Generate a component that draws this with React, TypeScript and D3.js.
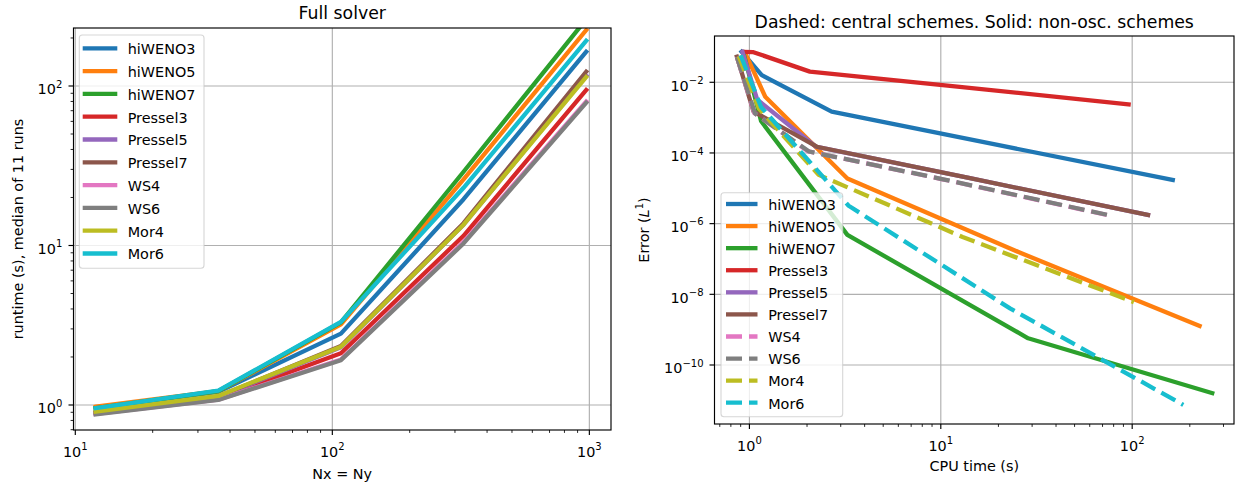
import React from "react";
import * as d3 from "d3";

const FONT = "'DejaVu Sans', Verdana, sans-serif";

// ---------- shared ----------
const schemeNames = ["hiWENO3", "hiWENO5", "hiWENO7", "Pressel3", "Pressel5", "Pressel7", "WS4", "WS6", "Mor4", "Mor6"];
const schemeColors = ["#1f77b4", "#ff7f0e", "#2ca02c", "#d62728", "#9467bd", "#8c564b", "#e377c2", "#7f7f7f", "#bcbd22", "#17becf"];
const centralScheme = [false, false, false, false, false, false, true, true, true, true];

// ---------- left panel: runtime vs grid size ----------
const gridSizes = [12, 36, 108, 324, 972];
const runHiWENO3 = [0.96, 1.21, 2.8, 19.5, 164];
const runHiWENO5 = [0.975, 1.22, 3.2, 26, 224];
const runHiWENO7 = [0.955, 1.22, 3.3, 29, 262];
const runPressel3 = [0.885, 1.1, 2.11, 11.5, 94.4];
const runPressel5 = [0.9, 1.12, 2.3, 13.5, 116];
const runPressel7 = [0.895, 1.13, 2.34, 13.8, 123];
const runWS4 = [0.88, 1.08, 1.93, 10.5, 80];
const runWS6 = [0.875, 1.075, 1.91, 10.3, 78.6];
const runMor4 = [0.91, 1.14, 2.32, 13.5, 114];
const runMor6 = [0.955, 1.23, 3.32, 23, 192];
const runtimes = [runHiWENO3, runHiWENO5, runHiWENO7, runPressel3, runPressel5, runPressel7, runWS4, runWS6, runMor4, runMor6];

const leftXTicks = [10, 100, 1000];
const leftXTickExp = ["1", "2", "3"];
const leftYTicks = [1, 10, 100];
const leftYTickExp = ["0", "1", "2"];

// ---------- right panel: error vs CPU time ----------
const cpuHiWENO3 = [0.91, 1.16, 2.69, 19.5, 163];
const errHiWENO3 = [0.073, 0.016, 1.47e-3, 1.72e-4, 1.72e-5];
const cpuHiWENO5 = [0.95, 1.21, 3.25, 26, 225];
const errHiWENO5 = [0.068, 3.9e-3, 1.9e-5, 1.5e-7, 1.28e-9];
const cpuHiWENO7 = [0.93, 1.15, 3.25, 28.6, 262];
const errHiWENO7 = [0.07, 8e-4, 4.8e-7, 5.7e-10, 1.6e-11];
const cpuPressel3 = [0.93, 1.05, 2.07, 11.5, 95.8];
const errPressel3 = [0.072, 0.071, 0.02, 7.8e-3, 2.38e-3];
const cpuPressel5 = [0.92, 1.1, 2.22, 13.8, 121];
const errPressel5 = [0.072, 3.2e-3, 1.52e-4, 2e-5, 1.76e-6];
const cpuPressel7 = [0.86, 1.05, 2.25, 13.8, 121];
const errPressel7 = [0.053, 1.5e-3, 1.5e-4, 2e-5, 1.76e-6];
const cpuWS4 = [0.86, 1.06, 2.02, 10.2, 76];
const errWS4 = [0.052, 1.35e-3, 1.12e-4, 1.8e-5, 1.7e-6];
const cpuWS6 = [0.86, 1.07, 2.05, 10.3, 77];
const errWS6 = [0.052, 1.3e-3, 1.1e-4, 1.8e-5, 1.7e-6];
const cpuMor4 = [0.88, 1.12, 2.3, 13, 102];
const errMor4 = [0.055, 1.8e-3, 2.4e-5, 4.2e-7, 6e-9];
const cpuMor6 = [0.9, 1.15, 3.3, 23, 185];
const errMor6 = [0.058, 2e-3, 3.2e-6, 4e-9, 7.4e-12];
const cpuTimes = [cpuHiWENO3, cpuHiWENO5, cpuHiWENO7, cpuPressel3, cpuPressel5, cpuPressel7, cpuWS4, cpuWS6, cpuMor4, cpuMor6];
const errors = [errHiWENO3, errHiWENO5, errHiWENO7, errPressel3, errPressel5, errPressel7, errWS4, errWS6, errMor4, errMor6];

const rightXTicks = [1, 10, 100];
const rightXTickExp = ["0", "1", "2"];
const rightYTicks = [1e-2, 1e-4, 1e-6, 1e-8, 1e-10];
const rightYTickExp = ["\u22122", "\u22124", "\u22126", "\u22128", "\u221210"];

// ---------- geometry ----------
const LB = { left: 73.5, right: 611, top: 28, bottom: 430 };
const RB = { left: 714.5, right: 1234, top: 36, bottom: 424 };

const xL = d3.scaleLog().domain([9.84, 1214]).range([LB.left, LB.right]);
const yL = d3.scaleLog().domain([0.697, 231]).range([LB.bottom, LB.top]);
const xR = d3.scaleLog().domain([0.657, 340.4]).range([RB.left, RB.right]);
const yR = d3.scaleLog().domain([2.14e-12, 0.204]).range([RB.bottom, RB.top]);

const LW = 4.3;
const DASH = "16 7";
const FS = 14.4;

function minorTicks(scale: any) {
  const [a, b] = scale.domain();
  const out: number[] = [];
  for (let e = Math.floor(Math.log10(a)); e <= Math.ceil(Math.log10(b)); e++) {
    for (let m = 2; m <= 9; m++) {
      const v = m * Math.pow(10, e);
      if (v >= a && v <= b) out.push(v);
    }
  }
  return out;
}

function Pow({ x, y, exp, anchor }: { x: number; y: number; exp: string; anchor: string }) {
  return (
    <text x={x} y={y} textAnchor={anchor} fontSize={FS} fontFamily={FONT} fill="#000">
      <tspan>10</tspan>
      <tspan dy={-6.7} fontSize={10}>{exp}</tspan>
    </text>
  );
}

function Legend({ x, y, w, h, row0, rowDy, hx1, hx2, tx, dashedFlags }: any) {
  return (
    <g>
      <rect x={x} y={y} width={w} height={h} rx={3} ry={3} fill="#fff" fillOpacity={0.8} stroke="#cccccc" strokeOpacity={0.8} strokeWidth={1.1} />
      {schemeNames.map((name, i) => {
        const ry = row0 + i * rowDy;
        return (
          <g key={name}>
            <line x1={hx1} x2={hx2} y1={ry} y2={ry} stroke={schemeColors[i]} strokeWidth={LW} strokeDasharray={dashedFlags[i] ? DASH : undefined} />
            <text x={tx} y={ry + 5.8} fontSize={FS} fontFamily={FONT} fill="#000">{name}</text>
          </g>
        );
      })}
    </g>
  );
}

function Frame({ B, xs, ys, xMajor, xExp, yMajor, yExp, xMinorOn, yMinorOn, xLabY, yLabX }: any) {
  const xMin = xMinorOn ? minorTicks(xs) : [];
  const yMin = yMinorOn ? minorTicks(ys) : [];
  return (
    <g>
      {xMajor.map((v: number) => (
        <line key={"xm" + v} x1={xs(v)} x2={xs(v)} y1={B.bottom} y2={B.bottom + 5} stroke="#000" strokeWidth={1.15} />
      ))}
      {xMin.map((v: number) => (
        <line key={"xn" + v} x1={xs(v)} x2={xs(v)} y1={B.bottom} y2={B.bottom + 2.9} stroke="#000" strokeWidth={0.85} />
      ))}
      {yMajor.map((v: number) => (
        <line key={"ym" + v} x1={B.left - 5} x2={B.left} y1={ys(v)} y2={ys(v)} stroke="#000" strokeWidth={1.15} />
      ))}
      {yMin.map((v: number) => (
        <line key={"yn" + v} x1={B.left - 2.9} x2={B.left} y1={ys(v)} y2={ys(v)} stroke="#000" strokeWidth={0.85} />
      ))}
      {xMajor.map((v: number, i: number) => (
        <Pow key={"xl" + v} x={xs(v)} y={xLabY} exp={xExp[i]} anchor="middle" />
      ))}
      {yMajor.map((v: number, i: number) => (
        <Pow key={"yl" + v} x={yLabX} y={ys(v) + 8.3} exp={yExp[i]} anchor="end" />
      ))}
      <rect x={B.left} y={B.top} width={B.right - B.left} height={B.bottom - B.top} fill="none" stroke="#000" strokeWidth={1.15} />
    </g>
  );
}

function Grid({ B, xs, ys, xMajor, yMajor }: any) {
  return (
    <g>
      {xMajor.map((v: number) => (
        <line key={"gx" + v} x1={xs(v)} x2={xs(v)} y1={B.top} y2={B.bottom} stroke="#b0b0b0" strokeWidth={1.15} />
      ))}
      {yMajor.map((v: number) => (
        <line key={"gy" + v} x1={B.left} x2={B.right} y1={ys(v)} y2={ys(v)} stroke="#b0b0b0" strokeWidth={1.15} />
      ))}
    </g>
  );
}

export default function App() {
  const lineL = d3
    .line<number[]>()
    .x((d) => xL(d[0]))
    .y((d) => yL(d[1]));
  const lineR = d3
    .line<number[]>()
    .x((d) => xR(d[0]))
    .y((d) => yR(d[1]));

  return (
    <div style={{ position: "absolute", left: 0, top: 0 }}>
      <svg width={1235} height={484} viewBox="0 0 1235 484" style={{ display: "block", background: "#fff" }}>
        <defs>
          <clipPath id="clipL">
            <rect x={LB.left} y={LB.top} width={LB.right - LB.left} height={LB.bottom - LB.top} />
          </clipPath>
          <clipPath id="clipR">
            <rect x={RB.left} y={RB.top} width={RB.right - RB.left} height={RB.bottom - RB.top} />
          </clipPath>
        </defs>
        <rect x={0} y={0} width={1235} height={484} fill="#fff" />

        {/* ---------- LEFT ---------- */}
        <text x={(LB.left + LB.right) / 2} y={18.5} textAnchor="middle" fontSize={17.3} fontFamily={FONT}>Full solver</text>
        <Grid B={LB} xs={xL} ys={yL} xMajor={leftXTicks} yMajor={leftYTicks} />
        <g clipPath="url(#clipL)">
          {runtimes.map((vals, i) => (
            <path
              key={schemeNames[i]}
              d={lineL(gridSizes.map((n, k) => [n, vals[k]])) || ""}
              fill="none"
              stroke={schemeColors[i]}
              strokeWidth={LW}
              strokeLinecap="square"
              strokeLinejoin="round"
            />
          ))}
        </g>
        <Frame B={LB} xs={xL} ys={yL} xMajor={leftXTicks} xExp={leftXTickExp} yMajor={leftYTicks} yExp={leftYTickExp} xMinorOn={true} yMinorOn={true} xLabY={457} yLabX={62.3} />
        <text x={(LB.left + LB.right) / 2} y={479} textAnchor="middle" fontSize={FS} fontFamily={FONT}>Nx = Ny</text>
        <text transform={`translate(22.5,${(LB.top + LB.bottom) / 2}) rotate(-90)`} textAnchor="middle" fontSize={FS} fontFamily={FONT}>runtime (s), median of 11 runs</text>
        <Legend x={79.3} y={35} w={124.7} h={233.3} row0={48.3} rowDy={22.8} hx1={82.7} hx2={117.3} tx={127.7} dashedFlags={schemeNames.map(() => false)} />

        {/* ---------- RIGHT ---------- */}
        <text x={(RB.left + RB.right) / 2} y={28} textAnchor="middle" fontSize={17.3} fontFamily={FONT}>Dashed: central schemes. Solid: non-osc. schemes</text>
        <Grid B={RB} xs={xR} ys={yR} xMajor={rightXTicks} yMajor={rightYTicks} />
        <g clipPath="url(#clipR)">
          {errors.map((vals, i) => (
            <path
              key={schemeNames[i]}
              d={lineR(cpuTimes[i].map((t, k) => [t, vals[k]])) || ""}
              fill="none"
              stroke={schemeColors[i]}
              strokeWidth={LW}
              strokeDasharray={centralScheme[i] ? DASH : undefined}
              strokeLinecap={centralScheme[i] ? "butt" : "square"}
              strokeLinejoin="round"
            />
          ))}
        </g>
        <Frame B={RB} xs={xR} ys={yR} xMajor={rightXTicks} xExp={rightXTickExp} yMajor={rightYTicks} yExp={rightYTickExp} xMinorOn={true} yMinorOn={false} xLabY={450.5} yLabX={703.5} />
        <text x={(RB.left + RB.right) / 2} y={471} textAnchor="middle" fontSize={FS} fontFamily={FONT}>CPU time (s)</text>
        <text transform={`translate(649,${(RB.top + RB.bottom) / 2}) rotate(-90)`} textAnchor="middle" fontSize={FS} fontFamily={FONT}>
          Error (<tspan fontStyle="italic">L</tspan>
          <tspan dy={-6} fontSize={10}>1</tspan>
          <tspan dy={6}>)</tspan>
        </text>
        <Legend x={721} y={192.7} w={121.7} h={224} row0={204} rowDy={22.08} hx1={726} hx2={757.5} tx={768.2} dashedFlags={centralScheme} />
      </svg>
    </div>
  );
}
